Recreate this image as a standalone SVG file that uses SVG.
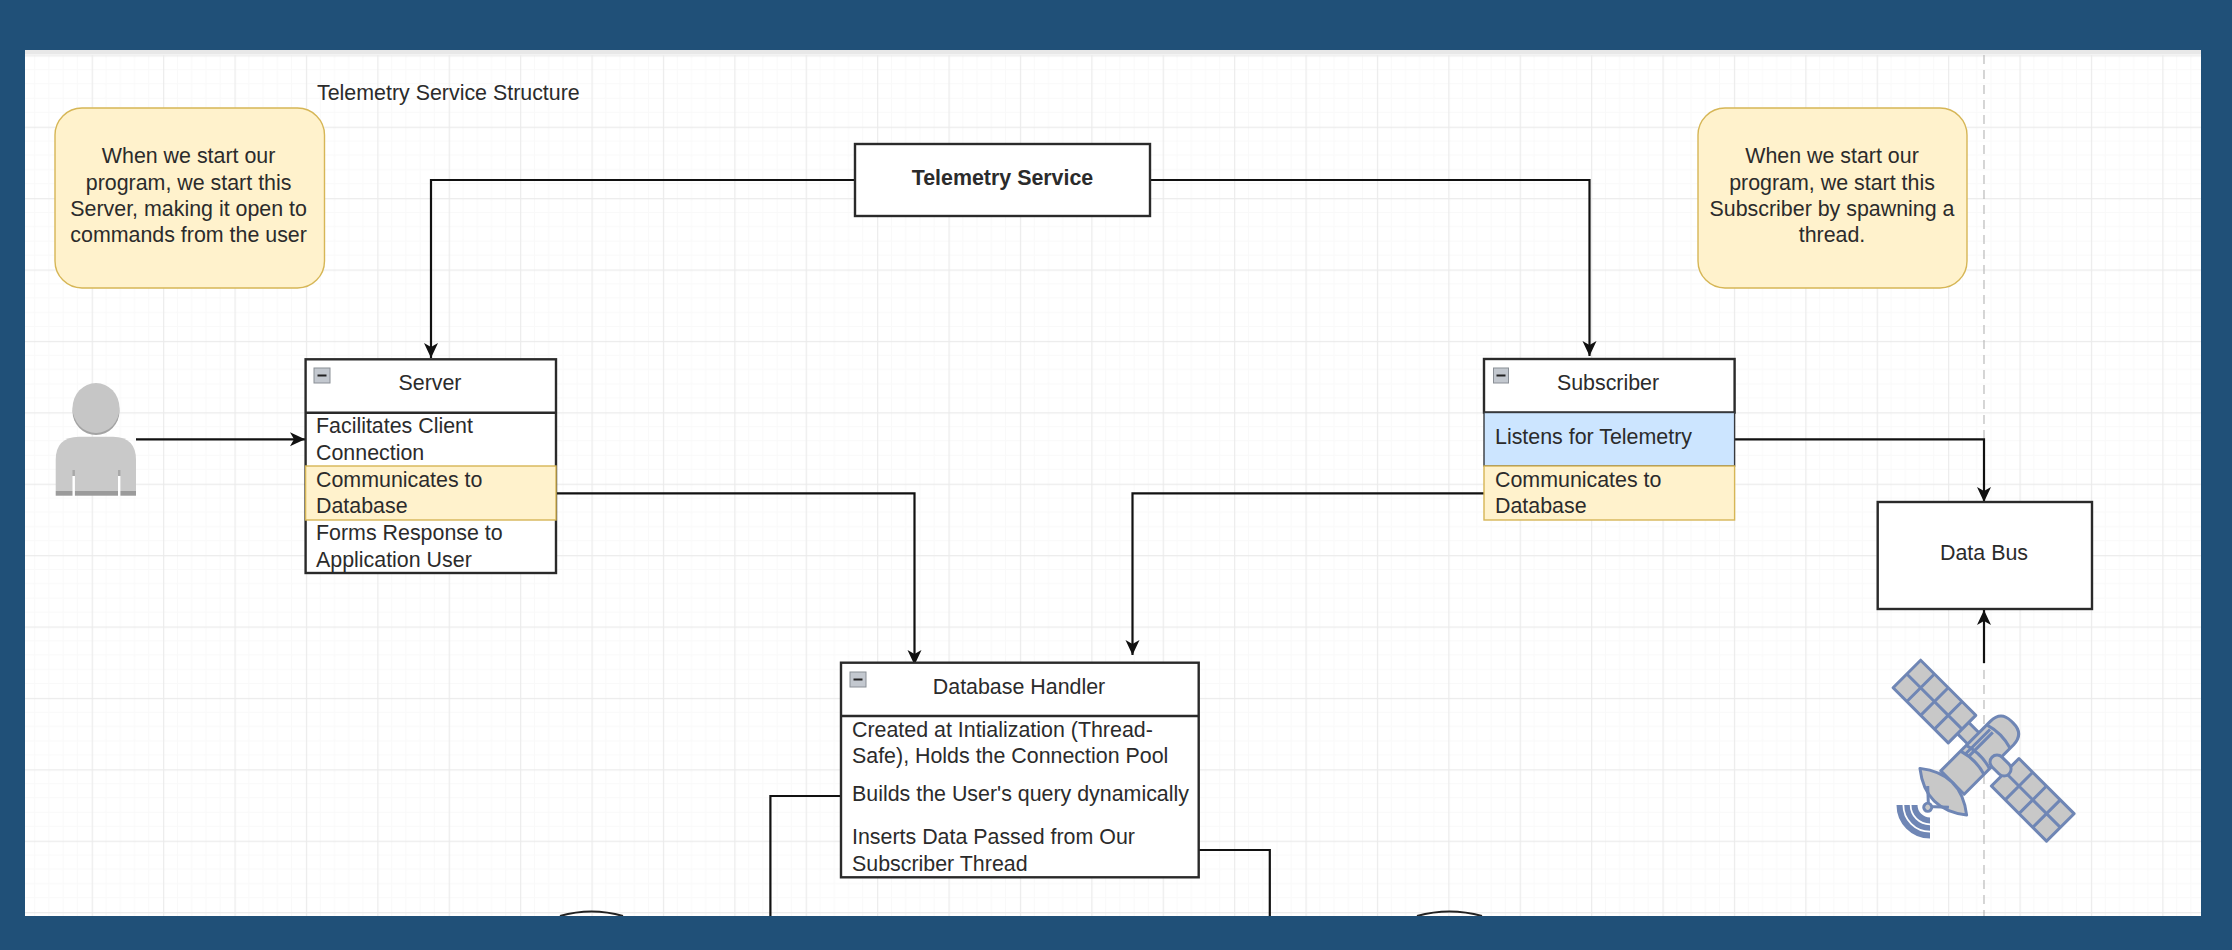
<svg xmlns="http://www.w3.org/2000/svg" width="2232" height="950" viewBox="0 0 2232 950">
<style>
text{font-family:"Liberation Sans",Arial,sans-serif;font-size:21.4px;fill:#2b2b2b}
.c{text-anchor:middle}
.box{fill:#fff;stroke:#2a2a2a;stroke-width:2.4}
.div{stroke:#2a2a2a;stroke-width:2.4;fill:none}
.note{fill:#fff2cc;stroke:#d6b656;stroke-width:1.4}
.hl{fill:#fff2cc;stroke:#d6b656;stroke-width:1.4}
.blue{fill:#cce5ff;stroke:#36393d;stroke-width:1.4}
.conn{fill:none;stroke:#111;stroke-width:2.2}
.arr{marker-end:url(#ah)}
.icon{fill:#c3c8cf;stroke:#8a8f96;stroke-width:1}
.minus{fill:none;stroke:#222;stroke-width:2}
.sat{fill:#c8c8c8;stroke:#6f86b5;stroke-width:3;stroke-linejoin:round}
.satl{fill:none;stroke:#6f86b5;stroke-width:3}
</style>
<defs>
<pattern id="grid" patternUnits="userSpaceOnUse" x="20.3" y="55.3" width="71.4" height="71.4">
<path d="M14.28 0V71.4M28.56 0V71.4M42.84 0V71.4M57.12 0V71.4M0 14.28H71.4M0 28.56H71.4M0 42.84H71.4M0 57.12H71.4" fill="none" stroke="#f9f9f9" stroke-width="1"/>
<path d="M0.6 0V71.4M0 0.6H71.4" fill="none" stroke="#ebebeb" stroke-width="1.2"/>
</pattern>
<marker id="ah" markerUnits="userSpaceOnUse" markerWidth="18" markerHeight="18" refX="15" refY="8" orient="auto">
<path d="M0 1L15 8L0 15L4 8Z" fill="#111"/>
</marker>
<g id="panel">
<rect class="sat" x="-19.5" y="-39" width="39" height="78"/>
<path class="satl" d="M0 -39V39M-19.5 -19.5H19.5M-19.5 0H19.5M-19.5 19.5H19.5"/>
</g>
</defs>
<rect width="2232" height="950" fill="#205078"/>
<rect x="25" y="50" width="2176" height="866" fill="#fff"/>
<rect x="25" y="55" width="2176" height="861" fill="url(#grid)"/>
<rect x="25" y="50" width="2176" height="4.5" fill="#e8e8e8"/>
<path d="M1984 55V916" fill="none" stroke="#b4b4b4" stroke-width="1.1" stroke-dasharray="9 6"/>

<g id="connectors">
<path class="conn arr" d="M855 180H431V358"/>
<path class="conn arr" d="M1150 180H1589.5V356"/>
<path class="conn arr" d="M136 439.3H305"/>
<path class="conn arr" d="M1734.6 439.3H1984V502"/>
<path class="conn arr" d="M1984 663V610"/>
<path class="conn arr" d="M556 493.3H914.5V665"/>
<path class="conn arr" d="M1484 493.3H1132.5V655"/>
<path class="conn" d="M841 796H770.4V916"/>
<path class="conn" d="M1198.7 850H1269.8V916"/>
</g>

<g id="title"><text x="317" y="100">Telemetry Service Structure</text></g>

<g id="note-server">
<rect class="note" x="55" y="108" width="269.5" height="180" rx="27"/>
<text class="c" x="188.6" y="163">When we start our</text>
<text class="c" x="188.6" y="190">program, we start this</text>
<text class="c" x="188.6" y="216">Server, making it open to</text>
<text class="c" x="188.6" y="242">commands from the user</text>
</g>

<g id="note-subscriber">
<rect class="note" x="1698" y="108" width="269" height="180" rx="27"/>
<text class="c" x="1832" y="163">When we start our</text>
<text class="c" x="1832" y="190">program, we start this</text>
<text class="c" x="1832" y="216">Subscriber by spawning a</text>
<text class="c" x="1832" y="242">thread.</text>
</g>

<g id="telemetry-service">
<rect class="box" x="855" y="144" width="295" height="72"/>
<text class="c" x="1002.5" y="185" style="font-weight:bold">Telemetry Service</text>
</g>

<g id="user">
<ellipse cx="96" cy="411" rx="23.5" ry="24" fill="#a3a3a3"/>
<ellipse cx="96" cy="408" rx="23.5" ry="25" fill="#c6c6c6"/>
<path d="M55.7 491V460Q55.7 437 79 436.7H113Q136 437 136 460V491Z" fill="#c9c9c9"/>
<rect x="55.7" y="491" width="80.3" height="4.7" fill="#9b9b9b"/>
<rect x="72.5" y="476" width="2.4" height="20" fill="#fff"/>
<rect x="118" y="476" width="2.4" height="20" fill="#fff"/>
<rect x="72.5" y="470" width="2.4" height="6" fill="#a8a8a8"/>
<rect x="118" y="470" width="2.4" height="6" fill="#a8a8a8"/>
</g>

<g id="server">
<rect class="box" x="305.6" y="359.3" width="250.4" height="213.7"/>
<path class="div" d="M305.6 412.7H556"/>
<rect class="hl" x="305.6" y="466" width="250.4" height="54"/>
<rect class="icon" x="314" y="368" width="16" height="15"/><path class="minus" d="M317.5 375.5H326.5"/>
<text class="c" x="430" y="390">Server</text>
<text x="316" y="433">Facilitates Client</text>
<text x="316" y="460">Connection</text>
<text x="316" y="487">Communicates to</text>
<text x="316" y="513">Database</text>
<text x="316" y="540">Forms Response to</text>
<text x="316" y="567">Application User</text>
</g>

<g id="subscriber">
<rect class="box" x="1484" y="359" width="250.6" height="53.5"/>
<rect class="blue" x="1484" y="412.5" width="250.6" height="53.5"/>
<rect class="hl" x="1484" y="466" width="250.6" height="54"/>
<rect class="icon" x="1493.5" y="368" width="15" height="15"/><path class="minus" d="M1496.5 375.5H1505.5"/>
<text class="c" x="1608" y="390">Subscriber</text>
<text x="1495" y="444">Listens for Telemetry</text>
<text x="1495" y="487">Communicates to</text>
<text x="1495" y="513">Database</text>
</g>

<g id="data-bus">
<rect class="box" x="1877.7" y="502" width="214.3" height="107"/>
<text class="c" x="1984" y="560">Data Bus</text>
</g>

<g id="database-handler">
<rect class="box" x="841" y="662.7" width="357.7" height="214.6"/>
<path class="div" d="M841 716H1198.7"/>
<rect class="icon" x="850" y="672" width="16" height="15"/><path class="minus" d="M853.5 679.5H862.5"/>
<text class="c" x="1019" y="694">Database Handler</text>
<text x="852" y="737">Created at Intialization (Thread-</text>
<text x="852" y="763">Safe), Holds the Connection Pool</text>
<text x="852" y="801">Builds the User's query dynamically</text>
<text x="852" y="844">Inserts Data Passed from Our</text>
<text x="852" y="871">Subscriber Thread</text>
</g>

<g id="satellite">
<g transform="translate(1985 750) rotate(-45)">
<rect class="sat" x="-8" y="-34" width="16" height="20"/>
<use href="#panel" transform="translate(-1.5 -70)"/>
<use href="#panel" transform="translate(-1.5 69)"/>
<path class="sat" d="M-46 -16.5H24Q39 -16.5 39 -2V1Q39 16 24 16.5H-46Z"/>
<path class="satl" d="M-18 -16.5Q-13 0 -18 16.5M-10 -16.5Q-5 0 -10 16.5M19 -16.5Q24 0 19 16.5"/>
<path class="satl" d="M-16 -11H18M-16 -7H18" stroke-width="1.8"/>
<rect class="sat" x="-7" y="10" width="14" height="24" rx="7"/>
<path class="sat" d="M-59 -33Q-85 0 -59 33Q-33 0 -59 -33Z"/>
<path class="satl" d="M-66 -15L-80 0L-66 15"/>
<circle class="sat" cx="-81" cy="0" r="4"/>
</g>
<g fill="none" stroke="#6f86b5">
<path d="M1899.5 805A30.5 30.5 0 0 0 1930 835.5" stroke-width="6"/>
<path d="M1907 805A23 23 0 0 0 1930 828" stroke-width="5.5"/>
<path d="M1914.5 805A15.5 15.5 0 0 0 1930 820.5" stroke-width="6"/>
</g>
</g>

<g id="cylinder-left"><path d="M560 916Q591.5 907 623 916" fill="none" stroke="#222" stroke-width="2.2"/></g>
<g id="cylinder-right"><path d="M1417 916Q1449.5 907 1482 916" fill="none" stroke="#222" stroke-width="2.2"/></g>
<rect x="0" y="916" width="2232" height="34" fill="#205078"/>
</svg>
